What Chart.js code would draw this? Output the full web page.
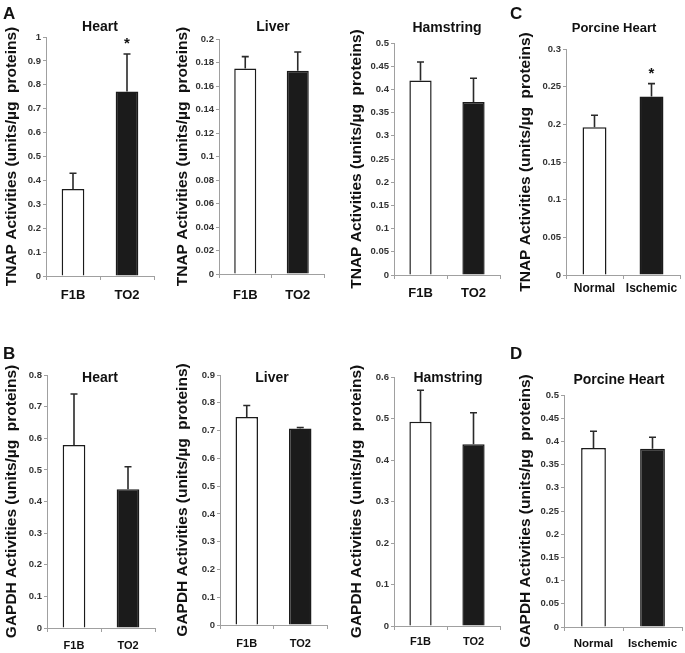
<!DOCTYPE html>
<html lang="en">
<head>
<meta charset="UTF-8">
<title>TNAP and GAPDH activities</title>
<script src="https://cdn.jsdelivr.net/npm/chart.js"></script>
<style>
  body { margin: 0; background: #fff; }
  #wrap { position: relative; width: 685px; height: 653px; }
  #wrap canvas { position: absolute; left: 0; top: 0; }
</style>
</head>
<body>
<div id="wrap"></div>
<script>
// groups
const mouseGroups = ['F1B', 'TO2'];
const pigGroups = ['Normal', 'Ischemic'];

// TNAP activities (mean, error)
const tnapHeart = [0.364, 0.772];
const tnapHeartErr = [0.066, 0.157];
const tnapLiver = [0.175, 0.173];
const tnapLiverErr = [0.010, 0.016];
const tnapHamstring = [0.419, 0.373];
const tnapHamstringErr = [0.040, 0.051];
const tnapPorcine = [0.196, 0.237];
const tnapPorcineErr = [0.016, 0.017];

// GAPDH activities (mean, error)
const gapdhHeart = [0.579, 0.439];
const gapdhHeartErr = [0.161, 0.071];
const gapdhLiver = [0.749, 0.707];
const gapdhLiverErr = [0.041, 0.004];
const gapdhHamstring = [0.492, 0.438];
const gapdhHamstringErr = [0.076, 0.076];
const gapdhPorcine = [0.386, 0.384];
const gapdhPorcineErr = [0.036, 0.025];

// significance marks
const tnapHeartSig = ['', '*'];
const tnapPorcineSig = ['', '*'];
const noSig = ['', ''];

const tnapTitle = 'TNAP Activities (units/\u00b5g  proteins)';
const gapdhTitle = 'GAPDH Activities (units/\u00b5g  proteins)';

const W = 685, H = 653;
const FONT = "'Liberation Sans', Arial, sans-serif";
const axisGray = '#a0a0a0';
const barFill = ['#ffffff', '#1b1b1b'];
const yTitleSize = 15.5;

const panels = [
  { title: 'Heart', letter: 'A', labels: mouseGroups, values: tnapHeart, err: tnapHeartErr, sig: tnapHeartSig,
    yTitle: tnapTitle, max: 1, step: 0.1,
    box: { cx: 12, l: 46, t: 37, r: 154, b: 276 }, head: [100, 27, 14], mark: [3, 19], xFont: 13, xPad: 8 },
  { title: 'Liver', labels: mouseGroups, values: tnapLiver, err: tnapLiverErr, sig: noSig,
    yTitle: tnapTitle, max: 0.2, step: 0.02,
    box: { cx: 183, l: 219, t: 39, r: 324, b: 274 }, head: [273, 27, 14], xFont: 13, xPad: 10 },
  { title: 'Hamstring', labels: mouseGroups, values: tnapHamstring, err: tnapHamstringErr, sig: noSig,
    yTitle: tnapTitle, max: 0.5, step: 0.05,
    box: { cx: 357, l: 394, t: 43, r: 500, b: 275 }, head: [447, 28, 14], xFont: 13, xPad: 7 },
  { title: 'Porcine Heart', letter: 'C', labels: pigGroups, values: tnapPorcine, err: tnapPorcineErr, sig: tnapPorcineSig,
    yTitle: tnapTitle, max: 0.3, step: 0.05,
    box: { cx: 526, l: 566, t: 49, r: 680, b: 275 }, head: [614, 28, 13], mark: [510, 19], xFont: 12, xPad: 2 },
  { title: 'Heart', letter: 'B', labels: mouseGroups, values: gapdhHeart, err: gapdhHeartErr, sig: noSig,
    yTitle: gapdhTitle, max: 0.8, step: 0.1,
    box: { cx: 12, l: 47, t: 375, r: 155, b: 628 }, head: [100, 378, 14], mark: [3, 359], xFont: 11, xPad: 7 },
  { title: 'Liver', labels: mouseGroups, values: gapdhLiver, err: gapdhLiverErr, sig: noSig,
    yTitle: gapdhTitle, max: 0.9, step: 0.1,
    box: { cx: 183, l: 220, t: 375, r: 327, b: 625 }, head: [272, 378, 14], xFont: 11, xPad: 8 },
  { title: 'Hamstring', labels: mouseGroups, values: gapdhHamstring, err: gapdhHamstringErr, sig: noSig,
    yTitle: gapdhTitle, max: 0.6, step: 0.1,
    box: { cx: 357, l: 394, t: 377, r: 500, b: 626 }, head: [448, 378, 14], xFont: 11, xPad: 5 },
  { title: 'Porcine Heart', letter: 'D', labels: pigGroups, values: gapdhPorcine, err: gapdhPorcineErr, sig: noSig,
    yTitle: gapdhTitle, max: 0.5, step: 0.05,
    box: { cx: 526, l: 564, t: 395, r: 682, b: 627 }, head: [619, 380, 14], mark: [510, 359], xFont: 11.5, xPad: 6 }
];

const wrap = document.getElementById('wrap');

panels.forEach(p => {
  const cv = document.createElement('canvas');
  cv.width = W; cv.height = H;
  wrap.appendChild(cv);

  const padL = p.box.cx - yTitleSize * 0.6;

  // error bars, stars, panel title and letter
  const extras = {
    id: 'extras',
    afterDatasetsDraw(chart) {
      const ctx = chart.ctx;
      const y = chart.scales.y;
      const meta = chart.getDatasetMeta(0);
      ctx.save();
      ctx.strokeStyle = '#2a2a2a';
      ctx.lineWidth = 1.6;
      meta.data.forEach((bar, i) => {
        const y0 = y.getPixelForValue(p.values[i]);
        const y1 = y.getPixelForValue(p.values[i] + p.err[i]);
        ctx.beginPath();
        ctx.moveTo(bar.x, y0);
        ctx.lineTo(bar.x, y1);
        ctx.moveTo(bar.x - 3.5, y1);
        ctx.lineTo(bar.x + 3.5, y1);
        ctx.stroke();
        if (p.sig[i]) {
          ctx.fillStyle = '#111';
          ctx.font = 'bold 15px ' + FONT;
          ctx.textAlign = 'center';
          ctx.textBaseline = 'alphabetic';
          ctx.fillText(p.sig[i], bar.x, y1 - 6);
        }
      });
      ctx.fillStyle = '#111';
      ctx.textAlign = 'center';
      ctx.textBaseline = 'middle';
      ctx.font = 'bold ' + p.head[2] + 'px ' + FONT;
      ctx.fillText(p.title, p.head[0], p.head[1]);
      if (p.letter) {
        ctx.textAlign = 'left';
        ctx.textBaseline = 'alphabetic';
        ctx.font = 'bold 17px ' + FONT;
        ctx.fillText(p.letter, p.mark[0], p.mark[1]);
      }
      ctx.restore();
    }
  };

  new Chart(cv, {
    type: 'bar',
    data: {
      labels: p.labels,
      datasets: [{
        data: p.values,
        backgroundColor: barFill,
        borderColor: '#1b1b1b',
        borderWidth: 1.5,
        barPercentage: 0.42,
        categoryPercentage: 1
      }]
    },
    options: {
      responsive: false,
      animation: false,
      events: [],
      layout: {
        padding: { left: padL, top: p.box.t, right: W - p.box.r, bottom: H - p.box.b - 40 }
      },
      plugins: {
        legend: { display: false },
        tooltip: { enabled: false }
      },
      scales: {
        x: {
          grid: { drawOnChartArea: false, tickLength: 4, color: axisGray },
          border: { color: axisGray },
          ticks: {
            color: '#111', padding: p.xPad, maxRotation: 0, autoSkip: false,
            font: { family: FONT, weight: 'bold', size: p.xFont }
          },
          afterFit: s => { s.height = 40; }
        },
        y: {
          min: 0,
          max: p.max,
          grid: { drawOnChartArea: false, tickLength: 3, color: axisGray },
          border: { color: axisGray },
          ticks: {
            stepSize: p.step, color: '#333', padding: 2, autoSkip: false,
            font: { family: FONT, weight: 'bold', size: 9.5 },
            callback: v => String(+v.toFixed(3))
          },
          title: {
            display: true, text: p.yTitle, color: '#111', padding: 0,
            font: { family: FONT, weight: 'bold', size: yTitleSize }
          },
          afterFit: s => { s.width = p.box.l - padL; }
        }
      }
    },
    plugins: [extras]
  });
});
</script>
</body>
</html>
